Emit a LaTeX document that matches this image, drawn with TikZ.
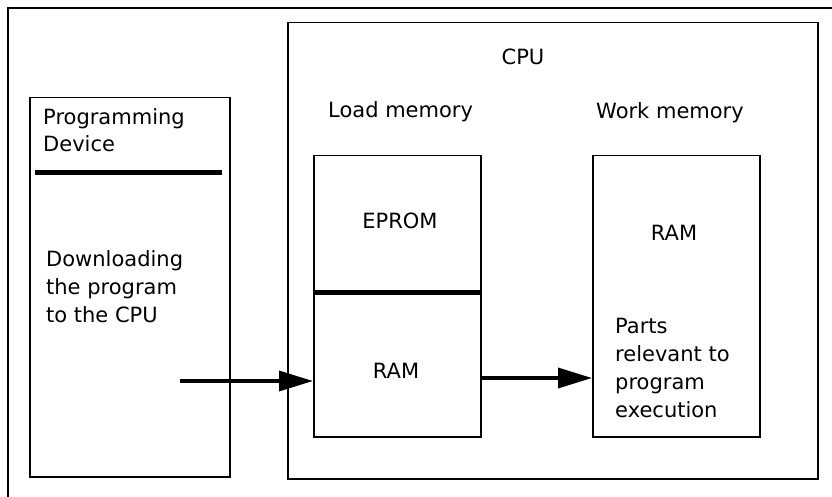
\documentclass[tikz,border=0pt]{standalone}
\usepackage{fontspec}
\setmainfont{DejaVu Sans}
\usetikzlibrary{arrows.meta}
\begin{document}
\begin{tikzpicture}[x=1pt,y=-1pt,
  box/.style={draw, line width=1.5pt, inner sep=0pt, anchor=north west},
  lbl/.style={inner sep=0pt, font=\fontsize{21}{28}\selectfont, align=left},
  thickline/.style={line width=5pt},
  flow/.style={line width=3.5pt, -{Triangle[length=34pt,width=20pt]}}]
\useasboundingbox (0,0) rectangle (832,497);
\fill[white] (0,0) rectangle (832,497);
% outer frame (partly visible)
\draw[line width=2pt] (8,497) -- (8,8) -- (832,8);
% programming device
\node[box, minimum width=200pt, minimum height=379pt] (pd) at (29,97) {};
\node[lbl, anchor=base west, font=\fontsize{21}{27}\selectfont] (pdtitle) at (43,152) {Programming\\Device};
\coordinate (pdl) at (35,173);
\coordinate (pdr) at (222,173);
\draw[thickline] (pdl) -- (pdr);
\node[lbl, anchor=base west] (pdtext) at (46,322) {Downloading\\the program\\to the CPU};
% CPU
\node[box, minimum width=530pt, minimum height=456pt] (cpu) at (287,22) {};
\node[lbl, anchor=base] (cputitle) at (523,65) {CPU};
\node[lbl, anchor=base west] (loadt) at (328,118) {Load memory};
\node[lbl, anchor=base west] (workt) at (596,119) {Work memory};
% load memory
\node[box, minimum width=167pt, minimum height=281pt] (load) at (313,155) {};
\draw[thickline] (load.west |- 0,292) -- (load.east |- 0,292);
\node[lbl, anchor=base] (eprom) at (400,229) {EPROM};
\node[lbl, anchor=base] (ram1) at (396,378) {RAM};
% work memory
\node[box, minimum width=167pt, minimum height=281pt] (work) at (592,155) {};
\node[lbl, anchor=base] (ram2) at (674,240) {RAM};
\node[lbl, anchor=base west] (parts) at (615,417) {Parts\\relevant to\\program\\execution};
% arrows
\coordinate (a1) at (180,381);
\draw[flow] (a1) -- (a1 -| load.west);
\coordinate (a2) at (480,378);
\draw[flow] (a2 -| load.east) -- (a2 -| work.west);
\end{tikzpicture}
\end{document}
